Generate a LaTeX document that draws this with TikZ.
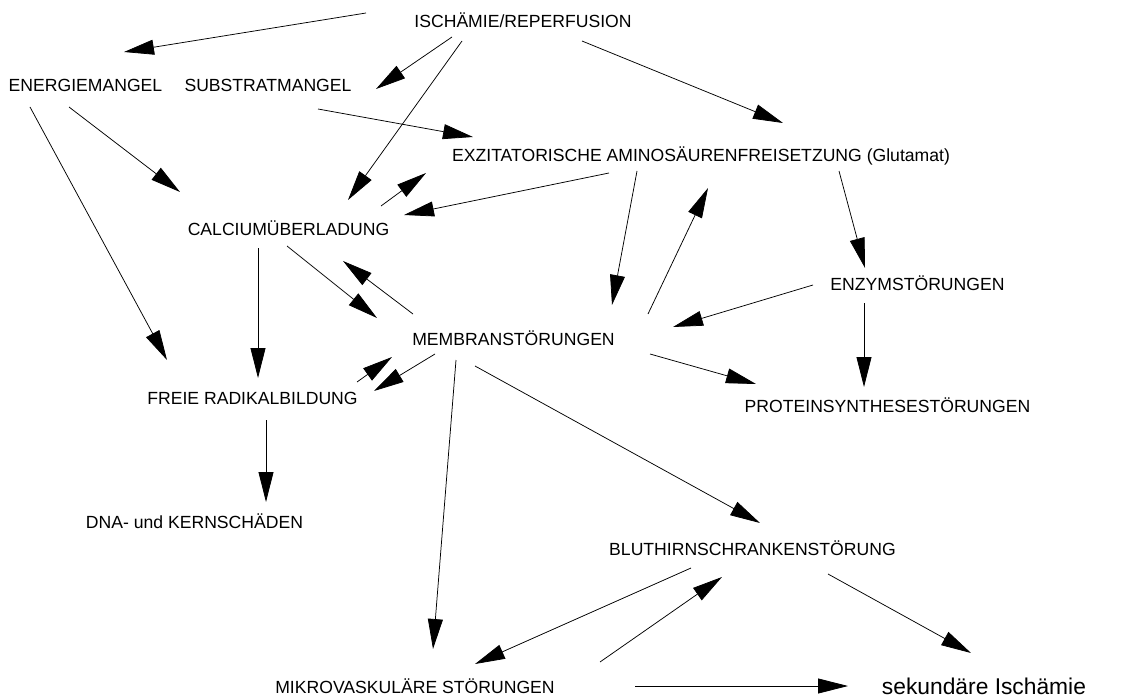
\documentclass[tikz,border=0pt]{standalone}
\usepackage{fontspec}
\setmainfont{Liberation Sans}
\usetikzlibrary{arrows.meta}
\begin{document}
\begin{tikzpicture}[x=1pt,y=-1pt,
  lbl/.style={anchor=base,inner sep=0pt,font=\fontsize{17.6}{20}\selectfont},
  biglbl/.style={anchor=base,inner sep=0pt,font=\fontsize{22.8}{26}\selectfont},
  arr/.style={line width=0.75pt,-{Triangle[length=30pt,width=15pt]}}]
\useasboundingbox[fill=white] (0,0) rectangle (1130,698);
% nodes
\node[lbl] (isch) at (523,28) {ISCHÄMIE/REPERFUSION};
\node[lbl] (energie) at (85.5,92) {ENERGIEMANGEL};
\node[lbl] (substrat) at (268,92) {SUBSTRATMANGEL};
\node[lbl] (exzit) at (701,161) {EXZITATORISCHE AMINOSÄURENFREISETZUNG (Glutamat)};
\node[lbl] (calcium) at (288.5,235) {CALCIUMÜBERLADUNG};
\node[lbl] (membran) at (513.5,345) {MEMBRANSTÖRUNGEN};
\node[lbl] (enzym) at (917.5,290) {ENZYMSTÖRUNGEN};
\node[lbl] (freie) at (252.5,404) {FREIE RADIKALBILDUNG};
\node[lbl] (dna) at (194.5,528) {DNA- und KERNSCHÄDEN};
\node[lbl] (protein) at (887.5,412) {PROTEINSYNTHESESTÖRUNGEN};
\node[lbl] (blut) at (752.5,555) {BLUTHIRNSCHRANKENSTÖRUNG};
\node[lbl] (mikro) at (415,693) {MIKROVASKULÄRE STÖRUNGEN};
\node[biglbl] (sek) at (984,694) {sekundäre Ischämie};
% connector end points
\coordinate (isch-w) at (366,13);   \coordinate (energie-ne) at (124,52);
\coordinate (isch-sw) at (452,37);  \coordinate (substrat-ne) at (376,89);
\coordinate (isch-s) at (462,41);   \coordinate (calcium-n) at (348,200);
\coordinate (substrat-se) at (318,109); \coordinate (exzit-w) at (473,137);
\coordinate (energie-se) at (69,107); \coordinate (calcium-nw) at (180,192);
\coordinate (energie-s) at (30,107); \coordinate (freie-nw) at (167,360);
\coordinate (calcium-ne) at (381,206); \coordinate (exzit-sw) at (426,173);
\coordinate (exzit-s1) at (609,173); \coordinate (calcium-e) at (404,215);
\coordinate (calcium-s) at (258,248); \coordinate (freie-n) at (258,378);
\coordinate (calcium-se) at (287,246); \coordinate (membran-nw) at (377,318);
\coordinate (membran-nw2) at (413,314); \coordinate (calcium-se2) at (343,261);
\coordinate (exzit-s2) at (637,171); \coordinate (membran-n) at (612,305);
\coordinate (membran-ne) at (648,314); \coordinate (exzit-s3) at (708,188);
\coordinate (isch-se) at (582,41); \coordinate (exzit-n) at (783,123);
\coordinate (exzit-se) at (839,171); \coordinate (enzym-n) at (865,268);
\coordinate (enzym-w) at (813,285); \coordinate (membran-e) at (673,327);
\coordinate (enzym-s) at (864,303); \coordinate (protein-n) at (864,387);
\coordinate (membran-se) at (650,354); \coordinate (protein-nw) at (756,384);
\coordinate (membran-s3) at (475,366); \coordinate (blut-nw) at (760,523);
\coordinate (membran-s2) at (456,360); \coordinate (mikro-n) at (433,649);
\coordinate (membran-sw) at (435,354); \coordinate (freie-e) at (374,391);
\coordinate (freie-ne) at (357,382); \coordinate (membran-w) at (392,357);
\coordinate (freie-s) at (266,420); \coordinate (dna-n) at (266,502);
\coordinate (blut-sw) at (691,568); \coordinate (mikro-ne) at (475,664);
\coordinate (mikro-ne2) at (600,662); \coordinate (blut-s) at (722,577);
\coordinate (blut-se) at (828,574); \coordinate (sek-n) at (971,653);
\coordinate (mikro-e) at (635,686); \coordinate (sek-w) at (848,686);
% connectors
\draw[arr] (isch-w) -- (energie-ne);
\draw[arr] (isch-sw) -- (substrat-ne);
\draw[arr] (isch-s) -- (calcium-n);
\draw[arr] (substrat-se) -- (exzit-w);
\draw[arr] (energie-se) -- (calcium-nw);
\draw[arr] (energie-s) -- (freie-nw);
\draw[arr] (calcium-ne) -- (exzit-sw);
\draw[arr] (exzit-s1) -- (calcium-e);
\draw[arr] (calcium-s) -- (freie-n);
\draw[arr] (calcium-se) -- (membran-nw);
\draw[arr] (membran-nw2) -- (calcium-se2);
\draw[arr] (exzit-s2) -- (membran-n);
\draw[arr] (membran-ne) -- (exzit-s3);
\draw[arr] (isch-se) -- (exzit-n);
\draw[arr] (exzit-se) -- (enzym-n);
\draw[arr] (enzym-w) -- (membran-e);
\draw[arr] (enzym-s) -- (protein-n);
\draw[arr] (membran-se) -- (protein-nw);
\draw[arr] (membran-s3) -- (blut-nw);
\draw[arr] (membran-s2) -- (mikro-n);
\draw[arr] (membran-sw) -- (freie-e);
\draw[arr] (freie-ne) -- (membran-w);
\draw[arr] (freie-s) -- (dna-n);
\draw[arr] (blut-sw) -- (mikro-ne);
\draw[arr] (mikro-ne2) -- (blut-s);
\draw[arr] (blut-se) -- (sek-n);
\draw[arr] (mikro-e) -- (sek-w);
\end{tikzpicture}
\end{document}
